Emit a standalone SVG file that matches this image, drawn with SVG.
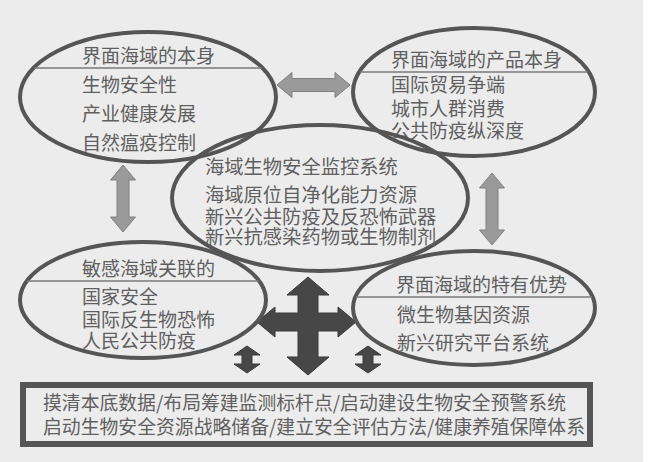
<svg xmlns="http://www.w3.org/2000/svg" width="648" height="462" viewBox="0 0 648 462">
<style>
  .bg { fill: #ececec; }
  .ell { fill: none; stroke: #555555; stroke-width: 4; }
  .div { stroke: #7a7a7a; stroke-width: 1.5; }
  .t { font-family: "Noto Sans CJK SC", "Noto Sans", sans-serif; font-size: 19px; fill: #5f5f5f; }
  .tc { font-size: 19.3px; }
  .arrL { fill: #9a9a9a; stroke: #808080; stroke-width: 1; }
  .arrD { fill: #474747; stroke: #3a3a3a; stroke-width: 1; }
  .box { fill: none; stroke: #555555; stroke-width: 6; }
</style>
<rect x="0" y="0" width="648" height="462" fill="#ffffff"/>
<rect class="bg" x="0" y="0" width="643" height="462"/>

<g id="connectors">
  <polygon class="arrL" points="277,85 292,72.5 292,78.5 335,78.5 335,72.5 350,85 335,97.5 335,91.5 292,91.5 292,97.5"/>
  <polygon class="arrL" points="123,165 135.5,180 129,180 129,217 135.5,217 123,232 110.5,217 117,217 117,180 110.5,180"/>
  <polygon class="arrL" points="492,173 504.5,188 498,188 498,230 504.5,230 492,245 479.5,230 486,230 486,188 479.5,188"/>
  <polygon class="arrD" points="308,277 329,295 318,295 318,313 338,313 338,307 356,322 338,337 338,331 318,331 318,357 329,357 308,375 287,357 298,357 298,331 275,331 275,337 257,322 275,307 275,313 298,313 298,295 287,295"/>
  <polygon class="arrD" points="247,346 260,355 252,355 252,364 260,364 247,373 234,364 242,364 242,355 234,355"/>
  <polygon class="arrD" points="368,346 381,355 373,355 373,364 381,364 368,373 355,364 363,364 363,355 355,355"/>
</g>

<g id="node-top-left">
  <ellipse class="ell" cx="148" cy="97" rx="128" ry="65"/>
  <line class="div" x1="34" y1="68" x2="262" y2="68"/>
  <text class="t" x="82" y="63">界面海域的本身</text>
  <text class="t" x="82" y="92">生物安全性</text>
  <text class="t" x="82" y="121">产业健康发展</text>
  <text class="t" x="82" y="150">自然瘟疫控制</text>
</g>

<g id="node-top-right">
  <ellipse class="ell" cx="474" cy="92" rx="121" ry="64"/>
  <line class="div" x1="360" y1="72" x2="588" y2="72"/>
  <text class="t" x="391" y="67">界面海域的产品本身</text>
  <text class="t" x="391" y="92">国际贸易争端</text>
  <text class="t" x="391" y="116">城市人群消费</text>
  <text class="t" x="391" y="138">公共防疫纵深度</text>
</g>

<g id="node-center">
  <ellipse class="ell" cx="320" cy="198" rx="148" ry="73"/>
  <text class="t tc" x="205" y="174">海域生物安全监控系统</text>
  <text class="t tc" x="205" y="202">海域原位自净化能力资源</text>
  <text class="t tc" x="205" y="224">新兴公共防疫及反恐怖武器</text>
  <text class="t tc" x="205" y="244">新兴抗感染药物或生物制剂</text>
</g>

<g id="node-bottom-left">
  <ellipse class="ell" cx="143" cy="300" rx="123" ry="58"/>
  <line class="div" x1="27" y1="281" x2="259" y2="281"/>
  <text class="t" x="82" y="276">敏感海域关联的</text>
  <text class="t" x="82" y="304">国家安全</text>
  <text class="t" x="82" y="327">国际反生物恐怖</text>
  <text class="t" x="82" y="348">人民公共防疫</text>
</g>

<g id="node-bottom-right">
  <ellipse class="ell" cx="474" cy="308" rx="121" ry="57"/>
  <line class="div" x1="356" y1="297" x2="592" y2="297"/>
  <text class="t" x="396" y="292">界面海域的特有优势</text>
  <text class="t" x="397" y="322">微生物基因资源</text>
  <text class="t" x="397" y="350">新兴研究平台系统</text>
</g>

<g id="node-bottom-box">
  <rect class="box" x="23" y="385" width="567" height="59"/>
  <text class="t" x="43" y="410" textLength="523" lengthAdjust="spacingAndGlyphs">摸清本底数据/布局筹建监测标杆点/启动建设生物安全预警系统</text>
  <text class="t" x="43" y="434" textLength="542" lengthAdjust="spacingAndGlyphs">启动生物安全资源战略储备/建立安全评估方法/健康养殖保障体系</text>
</g>
</svg>
